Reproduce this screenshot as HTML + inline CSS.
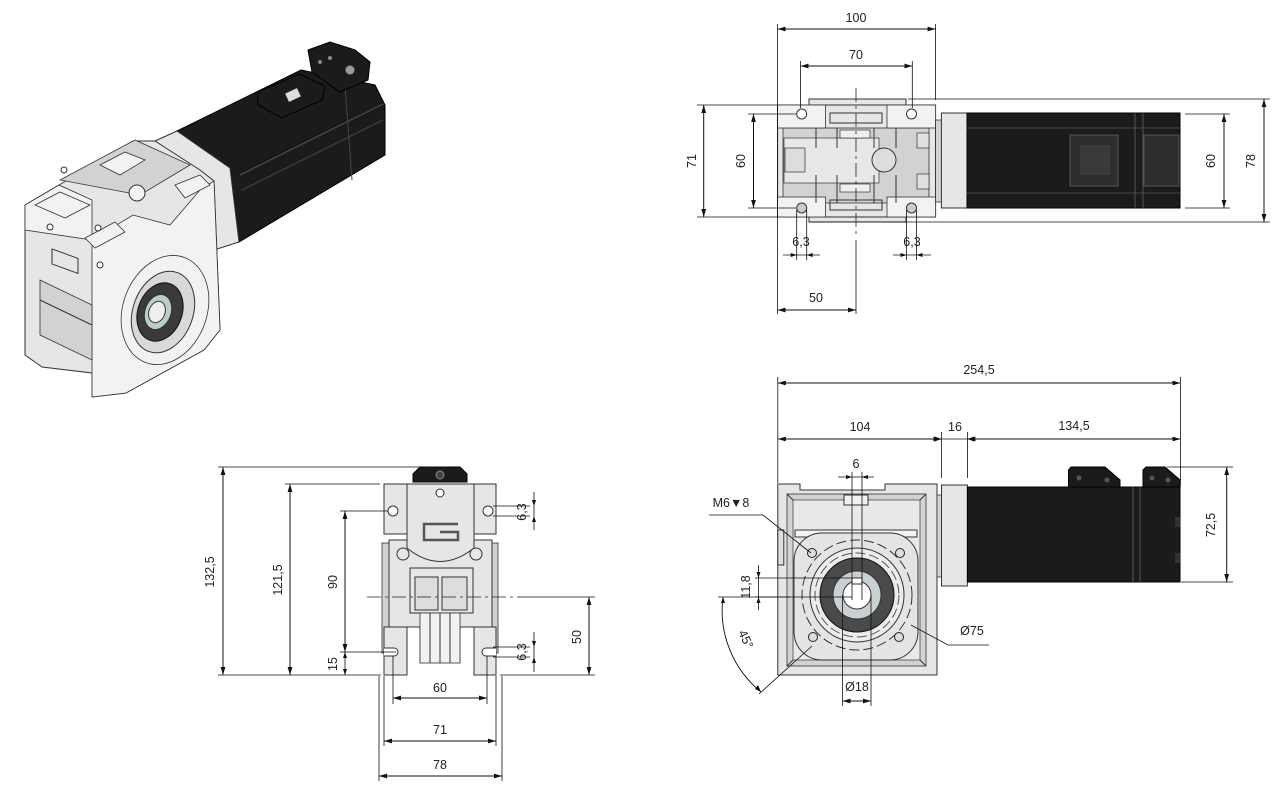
<!DOCTYPE html>
<html><head><meta charset="utf-8"><style>
html,body{margin:0;padding:0;background:#fff;}
svg{display:block;font-family:"Liberation Sans",sans-serif;}
.d{stroke:#111;stroke-width:1;fill:none;marker-start:url(#a);marker-end:url(#a);}
.e{stroke:#111;stroke-width:0.8;fill:none;}
.c{stroke:#222;stroke-width:0.8;stroke-dasharray:14 4 3 4;fill:none;}
.t{font-size:12.5px;fill:#222;text-anchor:middle;}
.g{fill:#e6e6e6;stroke:#333;stroke-width:1;}
.g2{fill:#d2d2d2;stroke:#333;stroke-width:0.8;}
.g3{fill:#f2f2f2;stroke:#333;stroke-width:0.8;}
.k{fill:#1b1b1b;stroke:#000;stroke-width:1;}
</style></head><body>
<svg width="1277" height="789" viewBox="0 0 1277 789" xmlns="http://www.w3.org/2000/svg">
<defs>
<marker id="a" viewBox="0 0 10 6" refX="10" refY="3" markerWidth="8" markerHeight="5" orient="auto-start-reverse" markerUnits="userSpaceOnUse"><path d="M0,0 L10,3 L0,6 z" fill="#111"/></marker>
</defs>

<!-- ============ ISOMETRIC ============ -->
<g>
<polygon class="k" points="177,131 301,70 375,85 385,105 385,155 239,242 230,168"/>
<line x1="240" y1="175" x2="383" y2="104" stroke="#555" stroke-width="1"/>
<line x1="242" y1="190" x2="383" y2="120" stroke="#444" stroke-width="1"/>
<line x1="345" y1="85" x2="352" y2="180" stroke="#444" stroke-width="1"/>
<polygon class="k" points="257,92 300,74 325,86 322,100 282,118 258,105"/>
<rect x="286" y="90" width="14" height="10" fill="#ddd" stroke="#222" transform="rotate(-25 293 95)"/>
<polygon class="k" points="308,50 330,42 355,50 370,62 368,80 340,92 312,72"/>
<circle cx="320" cy="62" r="2" fill="#888"/><circle cx="330" cy="58" r="2" fill="#888"/>
<circle cx="350" cy="70" r="5" fill="#999" stroke="#222"/>
<polygon class="g" points="155,141 177,131 230,168 239,242 217,249 200,215"/>
<polygon class="g" points="25,205 59,185 133,141 155,141 200,170 214,181 217,255 220,330 204,350 126,393 92,397 92,373 42,367 25,355"/>
<polygon class="g3" points="25,205 59,185 92,200 92,240 25,230"/>
<polygon class="g3" points="92,240 133,215 170,225 200,190 214,181 217,255 220,330 204,350 126,393 92,397"/>
<polygon class="g2" points="60,180 135,140 190,165 140,195"/>
<polygon class="g3" points="35,205 60,192 90,205 65,218"/>
<polygon class="g3" points="100,165 125,152 145,160 120,175"/>
<polygon class="g3" points="175,185 200,175 210,185 185,198"/>
<polygon class="g3" points="85,238 115,222 125,232 95,248"/>
<polygon class="g2" points="40,280 92,305 92,360 40,335"/>
<rect x="52" y="250" width="26" height="15" fill="none" stroke="#333" transform="skewY(20) translate(0,-20)"/>
<line x1="40" y1="300" x2="92" y2="325" stroke="#333"/>
<ellipse cx="165" cy="310" rx="42" ry="56" transform="rotate(20 165 310)" class="g3"/>
<ellipse cx="163" cy="312" rx="30" ry="42" transform="rotate(20 163 312)" fill="#d9d9d9" stroke="#333"/>
<ellipse cx="160" cy="312" rx="22" ry="30" transform="rotate(20 160 312)" fill="#3a3a3a" stroke="#111"/>
<ellipse cx="158" cy="312" rx="13" ry="18" transform="rotate(20 158 312)" fill="#bcc" stroke="#333"/>
<ellipse cx="157" cy="312" rx="8" ry="11" transform="rotate(20 157 312)" fill="#eee" stroke="#333"/>
<circle cx="64" cy="170" r="3" fill="#fff" stroke="#333"/><circle cx="50" cy="227" r="3" fill="#fff" stroke="#333"/>
<circle cx="98" cy="228" r="3" fill="#fff" stroke="#333"/><circle cx="100" cy="265" r="3" fill="#fff" stroke="#333"/>
<circle cx="137" cy="193" r="8" fill="#f4f4f4" stroke="#333"/>
</g>

<!-- ============ TOP RIGHT VIEW ============ -->
<g>
<rect class="g" x="809" y="99" width="97" height="123"/>
<rect class="g" x="777.6" y="105" width="158" height="112"/>
<rect class="g2" x="783" y="128" width="146" height="75"/>
<rect class="g3" x="777.6" y="105" width="48" height="23"/>
<rect class="g3" x="887" y="105" width="48.6" height="23"/>
<rect class="g3" x="777.6" y="197" width="48" height="20"/>
<rect class="g3" x="887" y="197" width="48.6" height="20"/>
<rect x="830" y="113" width="52" height="10" fill="none" stroke="#333"/>
<rect x="830" y="200" width="52" height="10" fill="none" stroke="#333"/>
<rect x="784" y="138" width="95" height="45" fill="#e8e8e8" stroke="#333" stroke-width="0.7"/>
<rect x="785" y="148" width="20" height="24" fill="#ddd" stroke="#333" stroke-width="0.7"/>
<rect x="840" y="130" width="30" height="8" fill="#f0f0f0" stroke="#333" stroke-width="0.7"/>
<rect x="840" y="184" width="30" height="8" fill="#f0f0f0" stroke="#333" stroke-width="0.7"/>
<line x1="816" y1="128" x2="816" y2="148" stroke="#333"/><line x1="837" y1="128" x2="837" y2="148" stroke="#333"/>
<line x1="816" y1="175" x2="816" y2="203" stroke="#333"/><line x1="837" y1="175" x2="837" y2="203" stroke="#333"/>
<line x1="874" y1="128" x2="874" y2="148" stroke="#333"/><line x1="896" y1="128" x2="896" y2="148" stroke="#333"/>
<line x1="874" y1="175" x2="874" y2="203" stroke="#333"/><line x1="896" y1="175" x2="896" y2="203" stroke="#333"/>
<rect x="917" y="133" width="12" height="15" fill="#e0e0e0" stroke="#333" stroke-width="0.7"/>
<rect x="917" y="174" width="12" height="15" fill="#e0e0e0" stroke="#333" stroke-width="0.7"/>
<circle cx="884" cy="160" r="12" fill="#ddd" stroke="#333"/>
<rect class="g2" x="935.6" y="120" width="6" height="82"/>
<rect class="g" x="941.4" y="113" width="25.6" height="95"/>
<rect class="k" x="967" y="113" width="213" height="95"/>
<line x1="967" y1="128" x2="1180" y2="128" stroke="#444"/>
<line x1="967" y1="193" x2="1180" y2="193" stroke="#444"/>
<line x1="1135" y1="113" x2="1135" y2="208" stroke="#555"/>
<line x1="1143" y1="113" x2="1143" y2="208" stroke="#555"/>
<rect x="1070" y="135" width="48" height="51" fill="#2d2d2d" stroke="#555"/>
<rect x="1080" y="145" width="30" height="30" fill="#3a3a3a"/>
<rect x="1144" y="135" width="35" height="51" fill="#2d2d2d" stroke="#555"/>
<circle cx="801.7" cy="114" r="5" fill="#fff" stroke="#333"/><circle cx="911.5" cy="114" r="5" fill="#fff" stroke="#333"/>
<circle cx="801.7" cy="208" r="5" fill="#ccc" stroke="#333"/><circle cx="911.5" cy="208" r="5" fill="#ccc" stroke="#333"/>
<!-- dims -->
<line class="e" x1="777.6" y1="24" x2="777.6" y2="314"/>
<line class="e" x1="935.6" y1="24" x2="935.6" y2="100"/>
<line class="d" x1="777.6" y1="29" x2="935.6" y2="29"/>
<text class="t" x="856" y="22">100</text>
<line class="e" x1="800.6" y1="61" x2="800.6" y2="108"/>
<line class="e" x1="912.3" y1="61" x2="912.3" y2="108"/>
<line class="d" x1="800.6" y1="66" x2="912.3" y2="66"/>
<text class="t" x="856" y="59">70</text>
<line class="c" x1="856" y1="88" x2="856" y2="237"/>
<line class="e" x1="856" y1="240" x2="856" y2="314"/>
<line class="e" x1="697" y1="105" x2="778" y2="105"/>
<line class="e" x1="697" y1="217" x2="778" y2="217"/>
<line class="d" x1="703.7" y1="105" x2="703.7" y2="217"/>
<text class="t" transform="translate(696,161) rotate(-90)">71</text>
<line class="e" x1="748" y1="114" x2="796" y2="114"/>
<line class="e" x1="748" y1="208" x2="796" y2="208"/>
<line class="d" x1="753.5" y1="114" x2="753.5" y2="208"/>
<text class="t" transform="translate(745,161) rotate(-90)">60</text>
<line class="e" x1="1185" y1="114" x2="1230" y2="114"/>
<line class="e" x1="1185" y1="208" x2="1230" y2="208"/>
<line class="d" x1="1224" y1="114" x2="1224" y2="208"/>
<text class="t" transform="translate(1215,161) rotate(-90)">60</text>
<line class="e" x1="908" y1="99" x2="1270" y2="99"/>
<line class="e" x1="809" y1="222" x2="1270" y2="222"/>
<line class="d" x1="1264" y1="99" x2="1264" y2="222"/>
<text class="t" transform="translate(1255,161) rotate(-90)">78</text>
<line class="e" x1="796.7" y1="210" x2="796.7" y2="260"/><line class="e" x1="806.7" y1="210" x2="806.7" y2="260"/>
<line class="e" x1="906.5" y1="210" x2="906.5" y2="260"/><line class="e" x1="916.5" y1="210" x2="916.5" y2="260"/>
<text class="t" x="801" y="246">6,3</text><text class="t" x="912" y="246">6,3</text>
<line class="e" x1="783" y1="255" x2="820" y2="255"/>
<path d="M796.7,255 l-6,-2 v4 z M806.7,255 l6,-2 v4 z M906.5,255 l-6,-2 v4 z M916.5,255 l6,-2 v4 z" fill="#111"/>
<line class="e" x1="893" y1="255" x2="931" y2="255"/>
<line class="d" x1="777.6" y1="310" x2="856" y2="310"/>
<text class="t" x="816" y="302">50</text>
</g>

<!-- ============ BOTTOM RIGHT VIEW ============ -->
<g>
<polygon class="g" points="777.8,484 800,484 800,490 885,490 885,484 937,484 937,675 777.8,675"/>
<rect class="g2" x="787" y="494" width="139" height="172"/>
<rect x="793" y="500" width="127" height="160" fill="#e9e9e9" stroke="#333" stroke-width="0.7"/>
<line x1="787" y1="494" x2="793" y2="500" stroke="#333"/><line x1="926" y1="494" x2="920" y2="500" stroke="#333"/>
<line x1="787" y1="666" x2="793" y2="660" stroke="#333"/><line x1="926" y1="666" x2="920" y2="660" stroke="#333"/>
<rect x="844" y="495" width="24" height="10" fill="#f2f2f2" stroke="#333"/>
<rect x="795" y="530" width="122" height="7" fill="#f2f2f2" stroke="#333"/>
<rect x="777.8" y="530" width="6" height="35" fill="#ddd" stroke="#333"/>
<rect x="794" y="533" width="124" height="127" rx="28" fill="#e4e4e4" stroke="#333"/>
<circle cx="857" cy="595" r="55" fill="none" stroke="#333" stroke-dasharray="10 4"/>
<circle cx="857" cy="595" r="47" fill="#ececec" stroke="#333"/>
<circle cx="857" cy="595" r="42" fill="none" stroke="#555" stroke-dasharray="10 4"/>
<circle cx="857" cy="595" r="37" fill="#4a4a4a" stroke="#111"/>
<circle cx="857" cy="595" r="24" fill="#c8d0d2" stroke="#333"/>
<circle cx="857" cy="595" r="14" fill="#fff" stroke="#333"/>
<rect x="852" y="578" width="10" height="6" fill="#fff" stroke="#333"/>
<circle cx="812" cy="553" r="4.5" fill="#ddd" stroke="#222"/><circle cx="900" cy="553" r="4.5" fill="#ddd" stroke="#222"/>
<circle cx="813" cy="637" r="4.5" fill="#ddd" stroke="#222"/><circle cx="899" cy="637" r="4.5" fill="#ddd" stroke="#222"/>
<rect class="g2" x="937" y="495" width="5" height="82"/>
<rect class="g" x="941.5" y="485" width="25.9" height="101"/>
<rect class="k" x="967.4" y="487" width="212.6" height="95"/>
<line x1="1133" y1="487" x2="1133" y2="582" stroke="#555"/><line x1="1140" y1="487" x2="1140" y2="582" stroke="#555"/>
<rect x="1175" y="517" width="5" height="10" fill="#333"/><rect x="1175" y="553" width="5" height="10" fill="#333"/>
<polygon class="k" points="1068.5,487 1068.5,470 1071,467 1105,467 1120,480 1120,487"/>
<polygon class="k" points="1143,487 1143,470 1146,467 1165,467 1180,480 1180,487"/>
<circle cx="1079" cy="478" r="2.5" fill="#555"/><circle cx="1107" cy="480" r="2.5" fill="#555"/>
<circle cx="1152" cy="478" r="2.5" fill="#555"/><circle cx="1168" cy="480" r="2.5" fill="#555"/>
<!-- dims -->
<line class="e" x1="777.8" y1="377" x2="777.8" y2="483"/>
<line class="e" x1="1180.4" y1="377" x2="1180.4" y2="486"/>
<line class="d" x1="777.8" y1="383" x2="1180.4" y2="383"/>
<text class="t" x="979" y="374">254,5</text>
<line class="e" x1="941.5" y1="432" x2="941.5" y2="478"/>
<line class="e" x1="967.4" y1="432" x2="967.4" y2="478"/>
<line class="d" x1="777.8" y1="439" x2="941.5" y2="439"/>
<line class="e" x1="941.5" y1="439" x2="967.4" y2="439"/>
<path d="M941.5,439 l-7,-2.5 v5 z M967.4,439 l7,-2.5 v5 z" fill="#111"/>
<line class="e" x1="930" y1="439" x2="941.5" y2="439"/>
<line class="d" x1="967.4" y1="439" x2="1180.4" y2="439"/>
<text class="t" x="860" y="431">104</text>
<text class="t" x="955" y="431">16</text>
<text class="t" x="1074" y="430">134,5</text>
<line class="e" x1="1167" y1="467" x2="1233" y2="467"/>
<line class="e" x1="1181" y1="582" x2="1233" y2="582"/>
<line class="d" x1="1226.7" y1="467" x2="1226.7" y2="582"/>
<text class="t" transform="translate(1215,525) rotate(-90)">72,5</text>
<line class="e" x1="852" y1="472" x2="852" y2="600"/>
<line class="e" x1="862" y1="472" x2="862" y2="600"/>
<line class="e" x1="838" y1="477" x2="874" y2="477"/>
<path d="M852,477 l-6,-2 v4 z M862,477 l6,-2 v4 z" fill="#111"/>
<text class="t" x="856" y="468">6</text>
<line class="e" x1="842.6" y1="595" x2="842.6" y2="706"/>
<line class="e" x1="871" y1="595" x2="871" y2="706"/>
<line class="d" x1="842.6" y1="701" x2="871" y2="701"/>
<text class="t" x="857" y="691">Ø18</text>
<line class="e" x1="755" y1="578" x2="852" y2="578"/>
<line class="e" x1="755" y1="597" x2="852" y2="597"/>
<line class="e" x1="758.5" y1="565" x2="758.5" y2="610"/>
<path d="M758.5,578 l-2,-6 h4 z M758.5,597 l-2,6 h4 z" fill="#111"/>
<text class="t" transform="translate(750,587) rotate(-90)">11,8</text>
<line class="e" x1="718" y1="597" x2="790" y2="597"/>
<path d="M723,597 A105,105 0 0 0 761,692" fill="none" stroke="#111" stroke-width="0.9"/>
<path d="M723,597 l-2,6 h4 z" fill="#111"/>
<path d="M761,692 l-6,-3 l3,-4 z" fill="#111"/>
<line class="e" x1="759" y1="694" x2="812" y2="646"/>
<text class="t" transform="translate(742,641) rotate(65)">45°</text>
<text class="t" x="731" y="507">M6▼8</text>
<polyline class="e" points="709,515 763,515 811,553"/>
<text class="t" x="972" y="635">Ø75</text>
<polyline class="e" points="989,645 948,645 911,625"/>
</g>

<!-- ============ BOTTOM LEFT VIEW ============ -->
<g>
<polygon class="k" points="413,482 413,474 420,467 460,467 467,474 467,482"/>
<circle cx="440" cy="475" r="4" fill="#444" stroke="#888"/>
<rect class="g2" x="382" y="543" width="8" height="110"/>
<rect class="g2" x="490" y="543" width="8" height="110"/>
<polygon class="g" points="389,540 492,540 492,675 474,675 474,627 460,627 460,662 420,662 420,627 407,627 407,675 389,675"/>
<rect class="g" x="384" y="484" width="23" height="50"/>
<rect class="g" x="474" y="484" width="22" height="50"/>
<path class="g" d="M407,484 L474,484 L474,548 Q440,575 407,548 Z"/>
<circle cx="403" cy="554" r="6" class="g"/><circle cx="476" cy="554" r="6" class="g"/>
<rect class="g" x="410" y="568" width="63" height="45"/>
<rect x="415" y="577" width="23" height="33" fill="#ddd" stroke="#333"/>
<rect x="442" y="577" width="25" height="33" fill="#ddd" stroke="#333"/>
<rect class="g3" x="420" y="613" width="40" height="50"/>
<line x1="430" y1="613" x2="430" y2="663" stroke="#333"/><line x1="440" y1="613" x2="440" y2="663" stroke="#333"/><line x1="450" y1="613" x2="450" y2="663" stroke="#333"/>
<rect class="g" x="384" y="627" width="23" height="48"/>
<rect class="g" x="474" y="627" width="22" height="48"/>
<path d="M384,648 h10 a4,4 0 0 1 0,8 h-10" fill="#fff" stroke="#333"/>
<path d="M496,648 h-10 a4,4 0 0 0 0,8 h10" fill="#fff" stroke="#333"/>
<circle cx="393" cy="511" r="5" fill="#fff" stroke="#333"/><circle cx="488" cy="511" r="5" fill="#fff" stroke="#333"/>
<circle cx="440" cy="493" r="4" fill="#fff" stroke="#333"/>
<path d="M458,524 H424 V540 H458 V532 H440" fill="none" stroke="#555" stroke-width="2.5"/>
<!-- dims -->
<line class="e" x1="218" y1="467" x2="447" y2="467"/>
<line class="d" x1="223" y1="467" x2="223" y2="675"/>
<text class="t" transform="translate(214,572) rotate(-90)">132,5</text>
<line class="e" x1="285" y1="484" x2="380" y2="484"/>
<line class="d" x1="290" y1="484" x2="290" y2="675"/>
<text class="t" transform="translate(282,580) rotate(-90)">121,5</text>
<line class="e" x1="340" y1="511" x2="388" y2="511"/>
<line class="d" x1="345" y1="511" x2="345" y2="652"/>
<text class="t" transform="translate(337,582) rotate(-90)">90</text>
<line class="e" x1="340" y1="652" x2="396" y2="652"/>
<line class="e" x1="345" y1="652" x2="345" y2="675"/>
<path d="M345,652 l-2,6 h4 z M345,675 l-2,-6 h4 z" fill="#111"/>
<text class="t" transform="translate(337,664) rotate(-90)">15</text>
<line class="e" x1="218" y1="675" x2="381" y2="675"/>
<line class="e" x1="500" y1="675" x2="595" y2="675"/>
<line class="c" x1="367" y1="597" x2="513" y2="597"/>
<line class="e" x1="517" y1="597" x2="595" y2="597"/>
<line class="d" x1="589" y1="597" x2="589" y2="675"/>
<text class="t" transform="translate(581,637) rotate(-90)">50</text>
<line class="e" x1="493" y1="506" x2="530" y2="506"/><line class="e" x1="493" y1="516" x2="530" y2="516"/>
<line class="e" x1="534" y1="492" x2="534" y2="530"/>
<path d="M534,506 l-2,-6 h4 z M534,516 l-2,6 h4 z" fill="#111"/>
<text class="t" transform="translate(526,512) rotate(-90)">6,3</text>
<line class="e" x1="493" y1="647" x2="530" y2="647"/><line class="e" x1="493" y1="657" x2="530" y2="657"/>
<line class="e" x1="534" y1="632" x2="534" y2="672"/>
<path d="M534,647 l-2,-6 h4 z M534,657 l-2,6 h4 z" fill="#111"/>
<text class="t" transform="translate(526,652) rotate(-90)">6,3</text>
<line class="e" x1="393" y1="656" x2="393" y2="704"/><line class="e" x1="487" y1="656" x2="487" y2="704"/>
<line class="d" x1="393" y1="698" x2="487" y2="698"/>
<text class="t" x="440" y="692">60</text>
<line class="e" x1="384" y1="676" x2="384" y2="746"/><line class="e" x1="496" y1="676" x2="496" y2="746"/>
<line class="d" x1="384" y1="741" x2="496" y2="741"/>
<text class="t" x="440" y="734">71</text>
<line class="e" x1="379" y1="676" x2="379" y2="781"/><line class="e" x1="502" y1="676" x2="502" y2="781"/>
<line class="d" x1="379" y1="776" x2="502" y2="776"/>
<text class="t" x="440" y="769">78</text>
</g>
</svg>
</body></html>
